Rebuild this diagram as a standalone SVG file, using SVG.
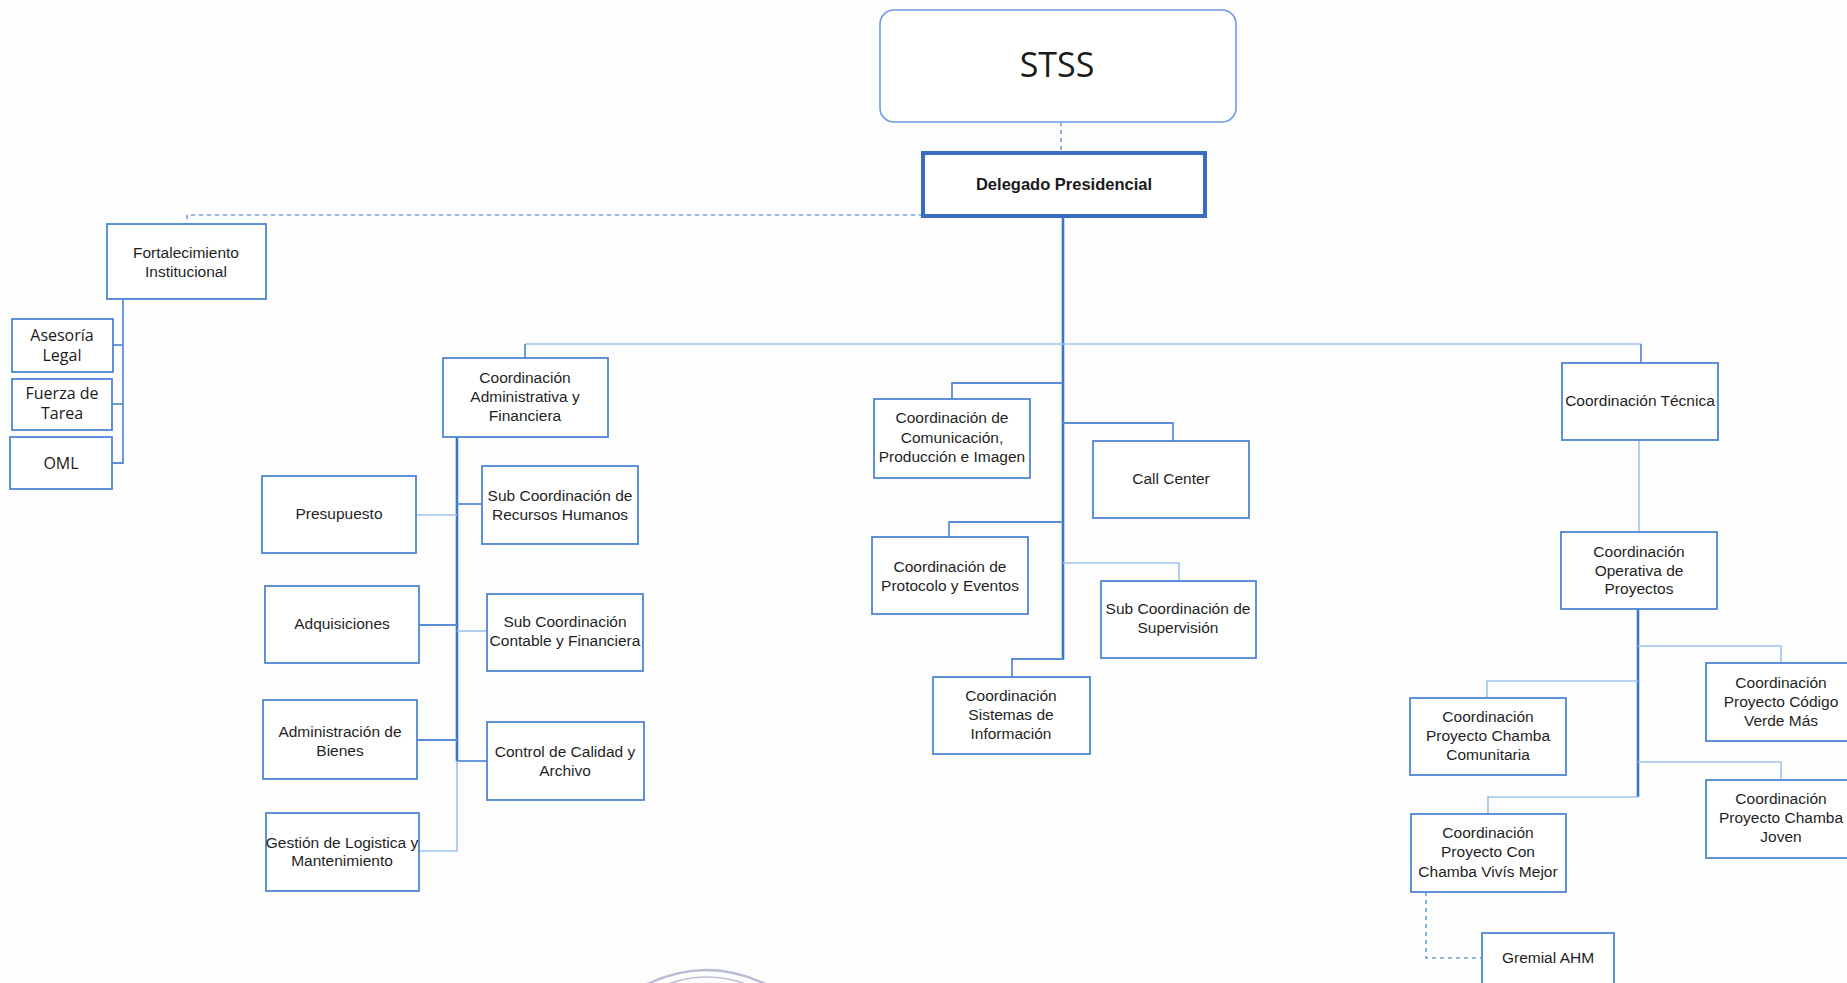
<svg xmlns="http://www.w3.org/2000/svg" width="1847" height="983" viewBox="0 0 1847 983">
<style>
.bg{fill:#fdfdfd}
.n{fill:#ffffff;stroke:#4f86d2;stroke-width:1.8}
.t{font-family:"Liberation Sans",Arial,sans-serif;font-size:15.5px;fill:#1f1f1f;text-anchor:middle}
.c{font-family:"Open Sans","Liberation Sans",sans-serif;font-size:16px;font-weight:500;fill:#1a1a1a;text-anchor:middle}
.thick{fill:none;stroke:#3e76cb;stroke-width:2.6}
.med{fill:none;stroke:#5a8fd8;stroke-width:1.8}
.light{fill:none;stroke:#9fc2ee;stroke-width:1.6}
.dash{fill:none;stroke:#6f9fe0;stroke-width:1.6;stroke-dasharray:4 4}
</style>
<rect class="bg" x="0" y="0" width="1847" height="983"/>

<g id="connectors">
  <path class="dash" d="M1061,122 V153"/>
  <path class="dash" d="M923,215 H187 V224"/>
  <path class="dash" d="M1426,892 V958 H1482"/>
  <path class="thick" d="M1063,217 V660"/>
  <path class="light" d="M525,344 H1641"/>
  <path class="med" d="M525,344 V358"/>
  <path class="med" d="M1641,344 V363"/>
  <path class="med" d="M1063,383 H952 V399"/>
  <path class="med" d="M1063,423 H1173 V441"/>
  <path class="med" d="M1063,522 H949 V537"/>
  <path class="light" d="M1063,563 H1179 V581"/>
  <path class="med" d="M1063,659 H1012 V677"/>
  <path class="med" d="M123,299 V463 H112"/>
  <path class="med" d="M123,345 H113"/>
  <path class="med" d="M123,404 H112"/>
  <path class="thick" d="M457,437 V761"/>
  <path class="light" d="M457,761 V851 H419"/>
  <path class="light" d="M457,515 H416"/>
  <path class="med" d="M457,504 H482"/>
  <path class="med" d="M457,625 H419"/>
  <path class="light" d="M457,631 H487"/>
  <path class="med" d="M457,740 H417"/>
  <path class="med" d="M457,761 H487"/>
  <path class="light" d="M1639,440 V532"/>
  <path class="thick" d="M1638,609 V797"/>
  <path class="light" d="M1638,646 H1781 V663"/>
  <path class="light" d="M1638,681 H1487 V698"/>
  <path class="light" d="M1638,762 H1781 V780"/>
  <path class="light" d="M1638,797 H1488 V814"/>
</g>

<g id="stss">
  <rect x="880" y="10" width="356" height="112" rx="14" fill="#ffffff" stroke="#6c9ce2" stroke-width="1.6"/>
  <text x="1057" y="77" font-family="'Open Sans','Liberation Sans',sans-serif" font-size="34" font-weight="500" fill="#1a1a1a" text-anchor="middle">STSS</text>
</g>
<g id="delegado">
  <rect x="923" y="153" width="282" height="63" fill="#ffffff" stroke="#3a6dc2" stroke-width="4"/>
  <text x="1064" y="190" font-family="'Liberation Sans',Arial,sans-serif" font-size="16.5" font-weight="bold" fill="#1a1a1a" text-anchor="middle">Delegado Presidencial</text>
</g>

<g id="fortalecimiento">
  <rect class="n" x="107" y="224" width="159" height="75"/>
  <text class="t" x="186" y="258">Fortalecimiento</text>
  <text class="t" x="186" y="277">Institucional</text>
</g>
<g id="asesoria">
  <rect class="n" x="12" y="319" width="101" height="53"/>
  <text class="c" x="62" y="341">Asesoría</text>
  <text class="c" x="62" y="361">Legal</text>
</g>
<g id="fuerza">
  <rect class="n" x="12" y="379" width="100" height="51"/>
  <text class="c" x="62" y="399">Fuerza de</text>
  <text class="c" x="62" y="419">Tarea</text>
</g>
<g id="oml">
  <rect class="n" x="10" y="437" width="102" height="52"/>
  <text class="c" x="61" y="469">OML</text>
</g>

<g id="coord-adm">
  <rect class="n" x="443" y="358" width="165" height="79"/>
  <text class="t" x="525" y="383">Coordinación</text>
  <text class="t" x="525" y="402">Administrativa y</text>
  <text class="t" x="525" y="421">Financiera</text>
</g>
<g id="presupuesto">
  <rect class="n" x="262" y="476" width="154" height="77"/>
  <text class="t" x="339" y="519">Presupuesto</text>
</g>
<g id="rrhh">
  <rect class="n" x="482" y="466" width="156" height="78"/>
  <text class="t" x="560" y="501">Sub Coordinación de</text>
  <text class="t" x="560" y="520">Recursos Humanos</text>
</g>
<g id="adquisiciones">
  <rect class="n" x="265" y="586" width="154" height="77"/>
  <text class="t" x="342" y="629">Adquisiciones</text>
</g>
<g id="contable">
  <rect class="n" x="487" y="594" width="156" height="77"/>
  <text class="t" x="565" y="627">Sub Coordinación</text>
  <text class="t" x="565" y="646">Contable y Financiera</text>
</g>
<g id="bienes">
  <rect class="n" x="263" y="700" width="154" height="79"/>
  <text class="t" x="340" y="737">Administración de</text>
  <text class="t" x="340" y="756">Bienes</text>
</g>
<g id="calidad">
  <rect class="n" x="487" y="722" width="157" height="78"/>
  <text class="t" x="565" y="757">Control de Calidad y</text>
  <text class="t" x="565" y="776">Archivo</text>
</g>
<g id="gestion">
  <rect class="n" x="266" y="813" width="153" height="78"/>
  <text class="t" x="342" y="848">Gestión de Logistica y</text>
  <text class="t" x="342" y="866">Mantenimiento</text>
</g>

<g id="comunicacion">
  <rect class="n" x="874" y="399" width="156" height="79"/>
  <text class="t" x="952" y="423">Coordinación de</text>
  <text class="t" x="952" y="443">Comunicación,</text>
  <text class="t" x="952" y="462">Producción e Imagen</text>
</g>
<g id="callcenter">
  <rect class="n" x="1093" y="441" width="156" height="77"/>
  <text class="t" x="1171" y="484">Call Center</text>
</g>
<g id="protocolo">
  <rect class="n" x="872" y="537" width="156" height="77"/>
  <text class="t" x="950" y="572">Coordinación de</text>
  <text class="t" x="950" y="591">Protocolo y Eventos</text>
</g>
<g id="supervision">
  <rect class="n" x="1101" y="581" width="155" height="77"/>
  <text class="t" x="1178" y="614">Sub Coordinación de</text>
  <text class="t" x="1178" y="633">Supervisión</text>
</g>
<g id="sistemas">
  <rect class="n" x="933" y="677" width="157" height="77"/>
  <text class="t" x="1011" y="701">Coordinación</text>
  <text class="t" x="1011" y="720">Sistemas de</text>
  <text class="t" x="1011" y="739">Información</text>
</g>

<g id="tecnica">
  <rect class="n" x="1562" y="363" width="156" height="77"/>
  <text class="t" x="1640" y="406">Coordinación Técnica</text>
</g>
<g id="operativa">
  <rect class="n" x="1561" y="532" width="156" height="77"/>
  <text class="t" x="1639" y="557">Coordinación</text>
  <text class="t" x="1639" y="576">Operativa de</text>
  <text class="t" x="1639" y="594">Proyectos</text>
</g>
<g id="verde">
  <rect class="n" x="1706" y="663" width="150" height="78"/>
  <text class="t" x="1781" y="688">Coordinación</text>
  <text class="t" x="1781" y="707">Proyecto Código</text>
  <text class="t" x="1781" y="726">Verde Más</text>
</g>
<g id="comunitaria">
  <rect class="n" x="1410" y="698" width="156" height="77"/>
  <text class="t" x="1488" y="722">Coordinación</text>
  <text class="t" x="1488" y="741">Proyecto Chamba</text>
  <text class="t" x="1488" y="760">Comunitaria</text>
</g>
<g id="joven">
  <rect class="n" x="1706" y="780" width="150" height="78"/>
  <text class="t" x="1781" y="804">Coordinación</text>
  <text class="t" x="1781" y="823">Proyecto Chamba</text>
  <text class="t" x="1781" y="842">Joven</text>
</g>
<g id="vivis">
  <rect class="n" x="1411" y="814" width="155" height="78"/>
  <text class="t" x="1488" y="838">Coordinación</text>
  <text class="t" x="1488" y="857">Proyecto Con</text>
  <text class="t" x="1488" y="877">Chamba Vivís Mejor</text>
</g>
<g id="gremial">
  <rect class="n" x="1482" y="933" width="132" height="60"/>
  <text class="t" x="1548" y="963">Gremial AHM</text>
</g>

<g id="stamp" fill="none" stroke="#7f88b0" stroke-opacity="0.55">
  <path d="M636,990 Q706,950 777,990" stroke-width="2.5"/>
  <path d="M650,992 Q706,962 765,992" stroke-width="1.5"/>
</g>
</svg>
